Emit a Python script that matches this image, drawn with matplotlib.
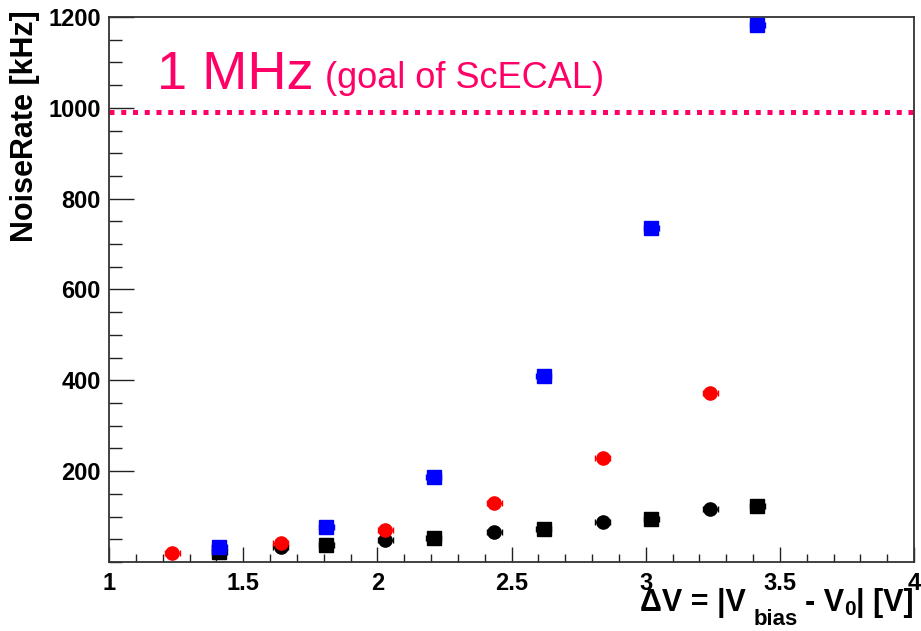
import matplotlib
matplotlib.use('Agg')
import matplotlib.pyplot as plt
from matplotlib.ticker import MultipleLocator, FixedLocator, FixedFormatter

plt.rcParams['font.family'] = ['Liberation Sans', 'DejaVu Sans']

# ---- data ----
black_sq_x = [1.41, 1.81, 2.21, 2.62, 3.02, 3.415]
black_sq_y = [23, 37, 52, 72, 94, 123]
black_ci_x = [1.64, 2.03, 2.435, 2.84, 3.24]
black_ci_y = [34, 48, 65, 87, 116]
red_x = [1.235, 1.64, 2.03, 2.435, 2.84, 3.24]
red_y = [19, 41, 70, 131, 230, 373]
blue_x = [1.41, 1.81, 2.21, 2.62, 3.02, 3.415]
blue_y = [34, 78, 188, 410, 735, 1182]
x_err = 0.028
goal_khz = 990

xticks = [1, 1.5, 2, 2.5, 3, 3.5, 4]
xticklabels = ['1', '1.5', '2', '2.5', '3', '3.5', '4']
yticks = [200, 400, 600, 800, 1000, 1200]
yticklabels = ['200', '400', '600', '800', '1000', '1200']

W, H = 921, 631
fig = plt.figure(figsize=(W / 100, H / 100), dpi=100)
ax = fig.add_axes([109/W, 1-562/H, (914-109)/W, (562-17)/H])

pink = '#FF0066'
ax.axhline(goal_khz, color=pink, lw=3.6, linestyle=(0, (1, 1.35)),
           dash_capstyle='butt', zorder=1)

def series(x, y, color, marker):
    ax.errorbar(x, y, xerr=x_err, fmt=marker, color=color, ms=9.5,
                mec=color, mfc=color, elinewidth=1, capsize=2.5,
                capthick=1, zorder=3)

series(black_sq_x, black_sq_y, 'black', 's')
series(black_ci_x, black_ci_y, 'black', 'o')
series(red_x, red_y, '#FF0000', 'o')
series(blue_x, blue_y, '#0000FF', 's')

ax.set_xlim(1, 4)
ax.set_ylim(0, 1200)
ax.xaxis.set_major_locator(FixedLocator(xticks))
ax.xaxis.set_major_formatter(FixedFormatter(xticklabels))
ax.xaxis.set_minor_locator(MultipleLocator(0.1))
ax.yaxis.set_major_locator(FixedLocator(yticks))
ax.yaxis.set_major_formatter(FixedFormatter(yticklabels))
ax.yaxis.set_minor_locator(MultipleLocator(50))

ax.tick_params(axis='both', which='both', direction='in', top=False, right=False,
               width=1.0, color='#222222')
ax.tick_params(axis='y', which='major', length=18, pad=6)
ax.tick_params(axis='y', which='minor', length=9)
ax.tick_params(axis='x', which='major', length=11, pad=7)
ax.tick_params(axis='x', which='minor', length=5.5)
for lab in ax.get_xticklabels() + ax.get_yticklabels():
    lab.set_fontsize(17)
    lab.set_fontweight('bold')
for s in ax.spines.values():
    s.set_linewidth(1.3)
    s.set_color('#333333')

fig.text(25/W, 1-10/H, 'NoiseRate [kHz]', rotation=90, ha='center', va='top',
         fontsize=22, fontweight='bold')

# x-axis title built from pieces (ROOT-style deep subscripts)
renderer = fig.canvas.get_renderer()
base_y = 611          # baseline in px from top
pieces = [  # text, size (pt), baseline shift (px, downwards), gap after (px)
    ('\u0394V = |V', 22, 0, 8),
    ('bias', 16, 14, 7),
    ('- V', 22, 0, 0),
    ('0', 15, 4, 1),
    ('| [V]', 22, 0, 0),
]
texts = []
x = 0.0
for txt, size, dy, gap in pieces:
    t = fig.text(x / W, 1 - (base_y + dy) / H, txt, fontsize=size,
                 fontweight='bold', ha='left', va='baseline')
    bb = t.get_window_extent(renderer)
    texts.append((t, x, dy))
    x = x + bb.width + gap
right_edge = 914
shift = right_edge - x
for t, x0, dy in texts:
    t.set_position(((x0 + shift) / W, 1 - (base_y + dy) / H))

fig.text(157/W, 1-89/H, '1 MHz', color=pink, fontsize=39, ha='left', va='baseline')
fig.text(325/W, 1-88/H, '(goal of ScECAL)', color=pink, fontsize=26, ha='left', va='baseline')

fig.savefig('out.png', dpi=100)
